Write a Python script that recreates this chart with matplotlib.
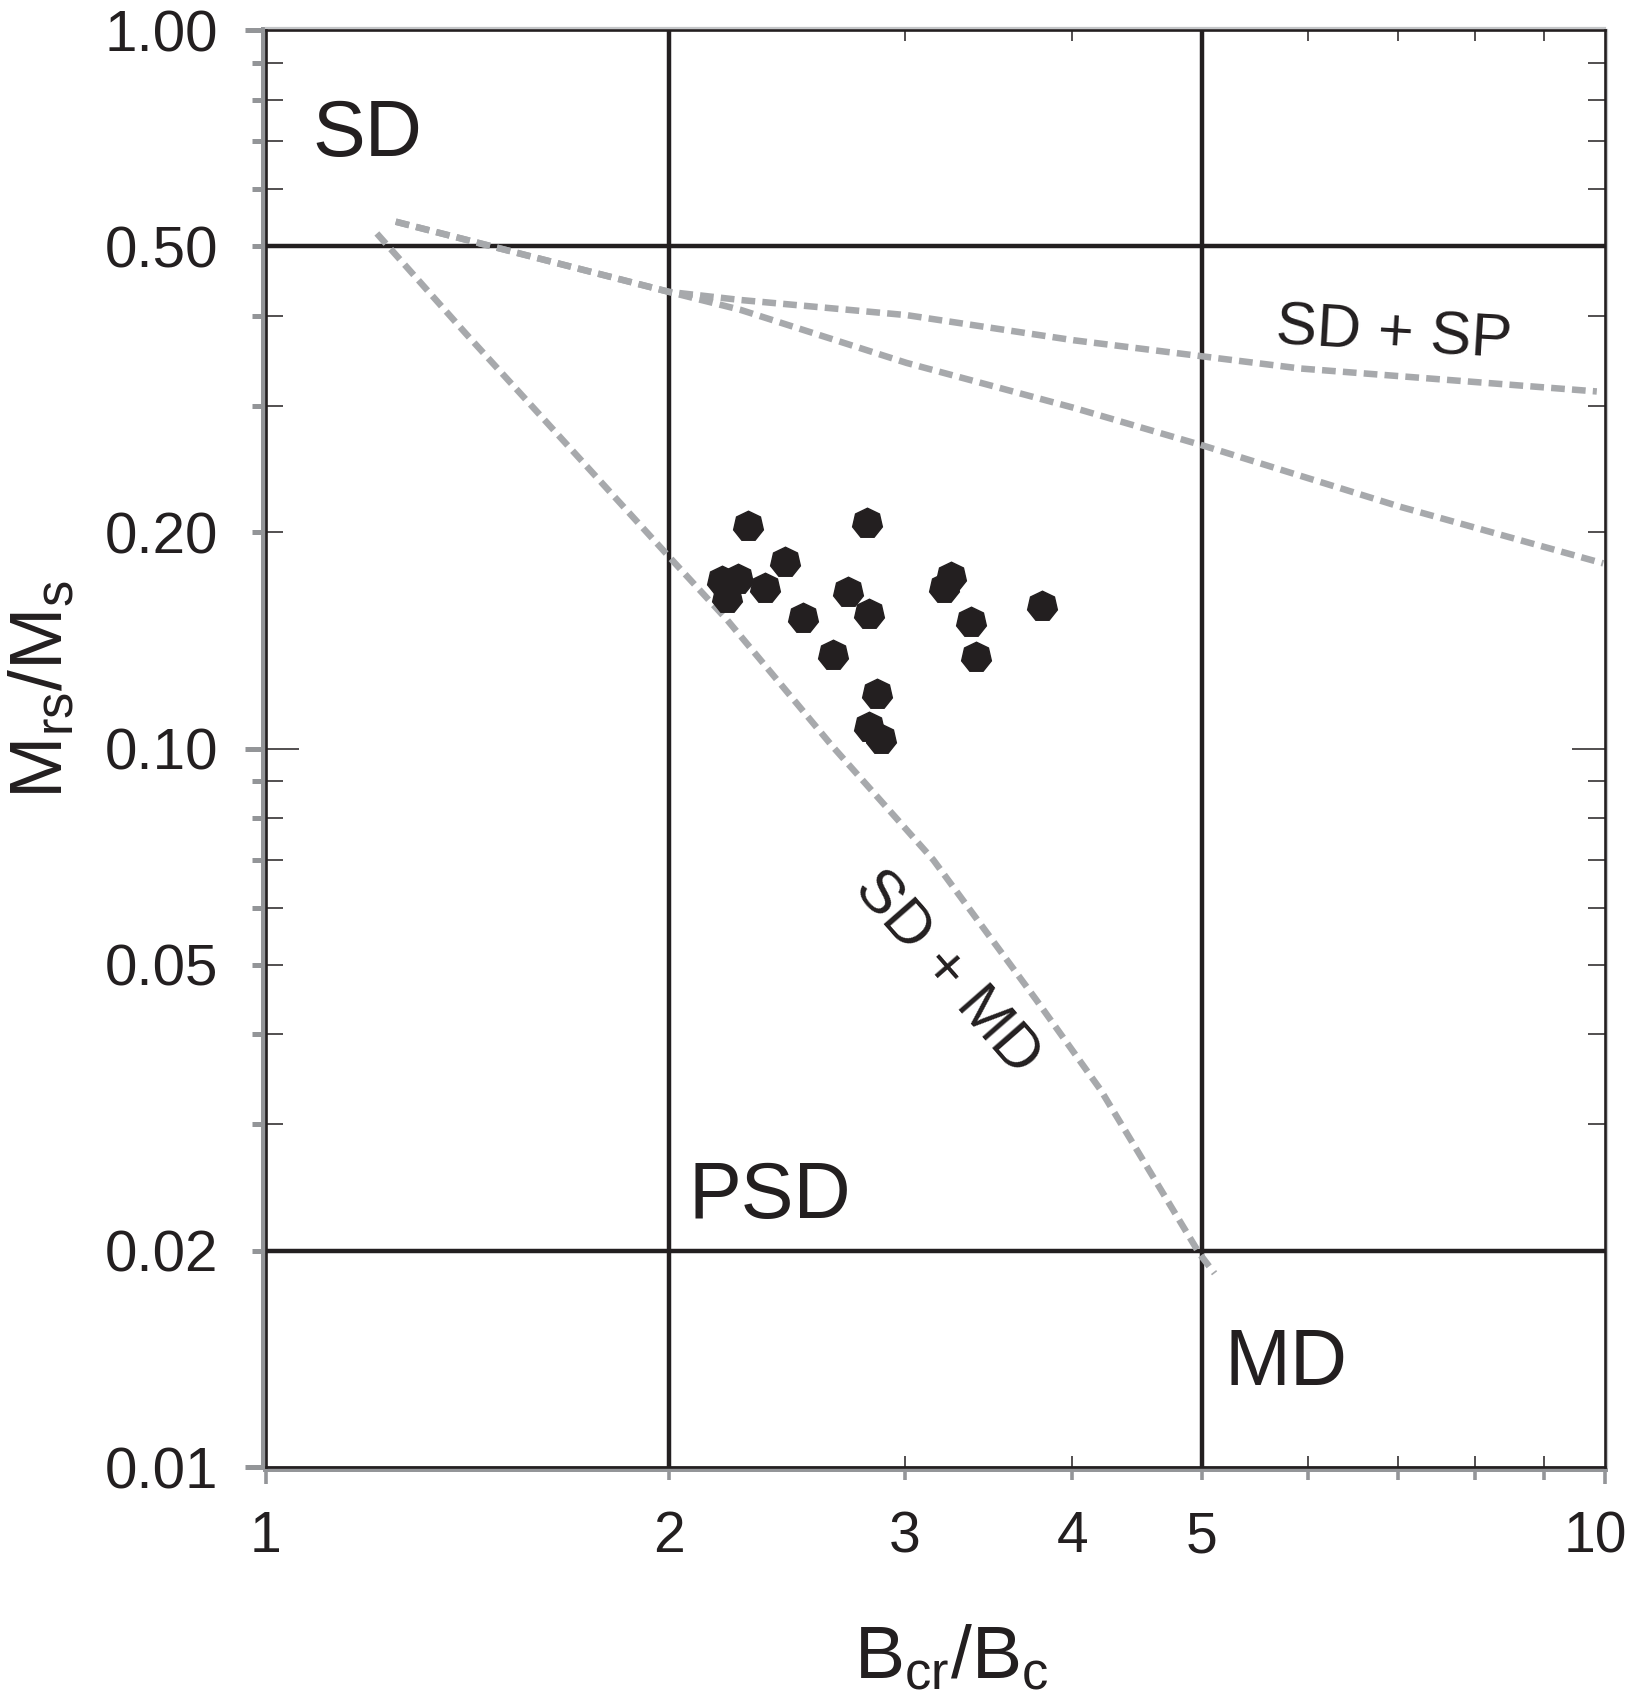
import matplotlib
matplotlib.use("Agg")
import matplotlib.pyplot as plt
import matplotlib.transforms as mtransforms
from matplotlib.ticker import NullFormatter

plt.rcParams['font.family'] = ['Liberation Sans', 'DejaVu Sans']

# sample data: Bcr/Bc vs Mrs/Ms
bcr_bc = [2.29, 2.81, 2.44, 2.19, 2.25, 2.21, 2.36, 2.72, 2.82, 2.52, 2.65,
          2.86, 2.82, 2.88, 3.25, 3.21, 3.36, 3.39, 3.80]
mrs_ms = [0.204, 0.206, 0.182, 0.171, 0.172, 0.162, 0.167, 0.165, 0.154, 0.152,
          0.135, 0.119, 0.107, 0.103, 0.173, 0.167, 0.150, 0.134, 0.158]

# Dunlop (2002) mixing curves
sp_upper_x = [1.25, 2.0, 2.26, 3.01, 4.01, 5.03, 5.92, 9.86]
sp_upper_y = [0.541, 0.432, 0.421, 0.401, 0.370, 0.351, 0.338, 0.314]
sp_lower_x = [1.25, 2.0, 2.26, 3.01, 4.01, 5.01, 7.03, 9.97]
sp_lower_y = [0.541, 0.432, 0.408, 0.344, 0.298, 0.264, 0.217, 0.181]
md_mix_x = [1.21, 1.41, 2.01, 2.21, 2.65, 3.15, 3.76, 4.20, 4.98, 5.11]
md_mix_y = [0.521, 0.378, 0.183, 0.151, 0.1006, 0.070, 0.0447, 0.0335, 0.0198, 0.0186]

# domain boundaries
bound_x = [2, 5]
bound_y = [0.02, 0.5]

x_ticks = [1, 2, 3, 4, 5, 10]
x_ticklabels = ['1', '2', '3', '4', '5', '10']
y_ticks = [0.01, 0.02, 0.05, 0.1, 0.2, 0.5, 1.0]
y_ticklabels = ['0.01', '0.02', '0.05', '0.10', '0.20', '0.50', '1.00']

BLACK = '#231f20'
DASH = '#a7a9ac'
AXGRAY = '#939598'
LIGHT = '#c4c6c8'

fig = plt.figure(figsize=(16.32, 16.95), dpi=100)
ax = fig.add_axes([0.16299, 0.13451, 0.82047, 0.84779])
ax.set_xscale('log')
ax.set_yscale('log')
ax.set_xlim(1, 10)
ax.set_ylim(0.01, 1)

for v in bound_x:
    ax.axvline(v, color=BLACK, lw=3.2, zorder=2)
for v in bound_y:
    ax.axhline(v, color=BLACK, lw=3.2, zorder=2)

dash = (0, (2.1, 1.1))
ax.plot(sp_upper_x, sp_upper_y, color=DASH, lw=4.7, ls=dash, zorder=3)
ax.plot(sp_lower_x, sp_lower_y, color=DASH, lw=4.7, ls=dash, zorder=3)
ax.plot(md_mix_x, md_mix_y, color=DASH, lw=4.7, ls=dash, zorder=3)

ax.plot(bcr_bc, mrs_ms, ls='none', marker=(7, 0, 0), ms=22, color=BLACK,
        mec=BLACK, zorder=4)

# region labels
ax.text(1.19, 0.714, 'SD', fontsize=57, color=BLACK, ha='center', va='center')
ax.text(2.38, 0.0237, 'PSD', fontsize=57, color=BLACK, ha='center', va='center')
ax.text(5.78, 0.0139, 'MD', fontsize=57, color=BLACK, ha='center', va='center')
ax.text(6.96, 0.376, 'SD + SP', fontsize=44, color=BLACK, ha='center',
        va='center', rotation=-3.5, rotation_mode='anchor')
ax.text(3.22, 0.0487, 'SD + MD', fontsize=44, color=BLACK, ha='center',
        va='center', rotation=-48.8, rotation_mode='anchor')

# frame
for s in ax.spines.values():
    s.set_color(BLACK)
    s.set_linewidth(1.9)

# inward black ticks on the main axes
ax.set_xticks([])
ax.set_xticks([3, 4, 6, 7, 8, 9], minor=True)
ax.xaxis.set_minor_formatter(NullFormatter())
ax.tick_params(axis='x', which='minor', direction='in', length=8, width=1.1,
               color=BLACK, top=True, bottom=True)
ax.set_yticks([0.1])
ax.set_yticks([0.03, 0.04, 0.05, 0.06, 0.07, 0.08, 0.09,
               0.2, 0.3, 0.4, 0.6, 0.7, 0.8, 0.9], minor=True)
ax.yaxis.set_minor_formatter(NullFormatter())
ax.tick_params(axis='y', which='major', direction='in', length=24, width=1.1,
               color=BLACK, left=True, right=True, labelleft=False)
ax.tick_params(axis='y', which='minor', direction='in', length=12, width=1.1,
               color=BLACK, left=True, right=True)

# gray outer axis with outward ticks
gy = ax.secondary_yaxis(-0.0015)
gy.set_yticks([0.01, 0.1, 1.0])
gy.set_yticks([0.02, 0.03, 0.04, 0.05, 0.06, 0.07, 0.08, 0.09,
               0.2, 0.3, 0.4, 0.5, 0.6, 0.7, 0.8, 0.9], minor=True)
gy.yaxis.set_minor_formatter(NullFormatter())
gy.tick_params(which='major', direction='out', length=13.5, width=3.6,
               color=AXGRAY, labelleft=False)
gy.tick_params(which='minor', direction='out', length=8.5, width=3.6,
               color=AXGRAY)
gy.spines['left'].set_color(AXGRAY)
gy.spines['left'].set_linewidth(4.3)

gx = ax.secondary_xaxis(-0.0015)
gx.set_xticks([1, 10])
gx.set_xticks([2, 3, 4, 5, 6, 7, 8, 9], minor=True)
gx.xaxis.set_minor_formatter(NullFormatter())
gx.tick_params(which='major', direction='out', length=11, width=2.6,
               color=AXGRAY, labelbottom=False)
gx.tick_params(which='minor', direction='out', length=8, width=2.6,
               color=AXGRAY)
gx.spines['bottom'].set_color(AXGRAY)
gx.spines['bottom'].set_linewidth(4.3)

# light gray edge on top and right
for sec, side in ((ax.secondary_xaxis(1.0012), 'top'),
                  (ax.secondary_yaxis(1.0012), 'right')):
    if side == 'top':
        sec.set_xticks([])
        sec.set_xticks([], minor=True)
    else:
        sec.set_yticks([])
        sec.set_yticks([], minor=True)
    sec.spines[side].set_color(LIGHT)
    sec.spines[side].set_linewidth(1.6)

# tick labels
ly = ax.secondary_yaxis('left')
ly.spines['left'].set_visible(False)
ly.set_yticks(y_ticks, labels=y_ticklabels)
ly.set_yticks([], minor=True)
ly.tick_params(length=0, pad=34.5, labelsize=42, labelcolor=BLACK)

lx = ax.secondary_xaxis('bottom')
lx.spines['bottom'].set_visible(False)
lx.set_xticks(x_ticks, labels=x_ticklabels)
lx.set_xticks([], minor=True)
lx.tick_params(length=0, pad=31, labelsize=41, labelcolor=BLACK)
# keep the last label ("10") inside the figure edge
last = lx.get_xticklabels()[-1]
last.set_horizontalalignment('right')
last.set_transform(last.get_transform() +
                   mtransforms.ScaledTranslation(22 / 100, 0, fig.dpi_scale_trans))

# axis titles
fig.text(951 / 1632, 1 - 1678 / 1695, r'$\mathregular{B_{cr}/B_c}$',
         fontsize=54, color=BLACK, ha='center', va='baseline')
fig.text(62 / 1632, 1 - 689 / 1695, r'$\mathregular{M_{rs}/M_s}$',
         fontsize=54, color=BLACK, ha='center', va='baseline',
         rotation=90, rotation_mode='anchor')

fig.savefig('out.png', dpi=100)
